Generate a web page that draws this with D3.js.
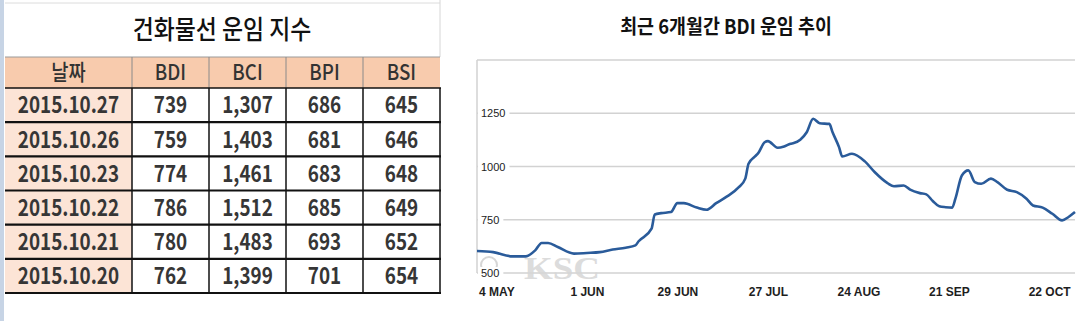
<!DOCTYPE html>
<html>
<head>
<meta charset="utf-8">
<script src="https://cdn.jsdelivr.net/npm/d3@7"></script>
<style>
body{margin:0;background:#fff;}
</style>
</head>
<body>
<div id="chart"></div>
<script>
// 건화물선 운임 지수 표
var table_title = "건화물선 운임 지수"
var col_names = ["날짜","BDI","BCI","BPI","BSI"]
var dates = ["2015.10.27","2015.10.26","2015.10.23","2015.10.22","2015.10.21","2015.10.20"]
var bdi = [739,759,774,786,780,762]
var bci = [1307,1403,1461,1512,1483,1399]
var bpi = [686,681,683,685,693,701]
var bsi = [645,646,648,649,652,654]

// 최근 6개월 BDI 추이
var chart_title = "최근 6개월간 BDI 운임 추이"
var line_dates = ["2015-04-28","2015-05-03","2015-05-09","2015-05-13","2015-05-16","2015-05-18","2015-05-20","2015-05-23","2015-05-28","2015-06-01",
    "2015-06-05","2015-06-09","2015-06-13","2015-06-16","2015-06-17","2015-06-21","2015-06-22","2015-06-24","2015-06-27","2015-06-29",
    "2015-07-01","2015-07-05","2015-07-08","2015-07-11","2015-07-14","2015-07-18","2015-07-20","2015-07-21","2015-07-23","2015-07-24",
    "2015-07-26","2015-07-27","2015-07-30","2015-08-01","2015-08-03","2015-08-04","2015-08-06","2015-08-08","2015-08-10","2015-08-12",
    "2015-08-15","2015-08-16","2015-08-18","2015-08-19","2015-08-22","2015-08-26","2015-08-29","2015-09-02","2015-09-04","2015-09-07",
    "2015-09-09","2015-09-12","2015-09-14","2015-09-16","2015-09-18","2015-09-20","2015-09-22","2015-09-23","2015-09-25","2015-09-27",
    "2015-09-29","2015-10-01","2015-10-04","2015-10-06","2015-10-09","2015-10-12","2015-10-15","2015-10-17","2015-10-20","2015-10-23",
    "2015-10-26","2015-10-28","2015-10-30"]
var line_values = [603,598,578,578,606,641,641,622,591,594,
    598,610,619,630,649,708,775,781,786,828,
    828,807,797,828,856,903,943,1013,1047,1063,
    1114,1119,1088,1094,1107,1110,1126,1161,1224,1203,
    1200,1161,1091,1047,1060,1024,974,922,907,911,
    891,875,869,838,813,809,807,849,958,982,
    927,919,943,927,891,880,849,817,807,778,
    747,763,786]
var y_ticks = [500,750,1000,1250]
var x_ticks = ["2015-05-04","2015-06-01","2015-06-29","2015-07-27","2015-08-24","2015-09-21","2015-10-22"]

var svg = d3.select("#chart")
  .append("svg")
  .attr("width", 1081)
  .attr("height", 321)

svg.append("rect")
  .attr("width", 1081)
  .attr("height", 321)
  .attr("fill", "#fff")

// 엑셀 왼쪽 테두리
svg.append("rect")
  .attr("x", 0).attr("y", 0)
  .attr("width", 4).attr("height", 321)
  .attr("fill", "#c7d4e5")

// 글자 폭 줄이기
function squeeze(sel, k){
    sel.each(function(){
        var w = this.getComputedTextLength()
        d3.select(this).attr("textLength", w*k).attr("lengthAdjust", "spacingAndGlyphs")
    })
}

// ---------- 표 ----------
var tbl = svg.append("g")
var col_x = d3.scaleBand().domain(col_names.slice(1)).range([132, 440])
function colLeft(i){ return i==0 ? 5 : col_x(col_names[i]) }
function colW(i){ return i==0 ? 127 : col_x.bandwidth() }
var row_y = d3.scaleBand().domain(dates).range([88, 293])
var head_top = 57
var head_bot = 88

// 위쪽 흐린 격자
tbl.append("line")
  .attr("x1", 5).attr("x2", 440).attr("y1", 3).attr("y2", 3)
  .attr("stroke", "#dcdcdc")
tbl.append("line")
  .attr("x1", 440).attr("x2", 440).attr("y1", 0).attr("y2", head_top)
  .attr("stroke", "#d6d6d6")

tbl.append("text")
  .attr("x", 222).attr("y", 30)
  .attr("dy", "0.35em")
  .attr("text-anchor", "middle")
  .attr("font-family", "Noto Sans CJK KR")
  .attr("font-size", 26)
  .attr("font-weight", 500)
  .attr("fill", "#111")
  .text(table_title)
  .call(squeeze, 0.88)

// 헤더
tbl.append("rect")
  .attr("x", 5).attr("y", head_top)
  .attr("width", 435).attr("height", head_bot-head_top)
  .attr("fill", "#f8cbad")
tbl.selectAll(".head")
  .data(col_names)
  .enter()
  .append("text")
  .attr("x", function(d,i){ return colLeft(i) + colW(i)/2 })
  .attr("y", (head_top+head_bot)/2)
  .attr("dy", "0.36em")
  .attr("text-anchor", "middle")
  .attr("font-family", "Noto Sans CJK KR")
  .attr("font-size", 22)
  .attr("font-weight", 500)
  .attr("fill", "#333")
  .text(function(d){ return d })
  .call(squeeze, 0.85)

// 날짜 칸 색
tbl.append("rect")
  .attr("x", 5).attr("y", head_bot)
  .attr("width", colW(0)).attr("height", 293-head_bot)
  .attr("fill", "#fce4d6")

var rows = dates.map(function(d,i){
    return [d, bdi[i], bci[i], bpi[i], bsi[i]]
})
var fmt = d3.format(",")
rows.forEach(function(r){
    tbl.selectAll(null)
      .data(r)
      .enter()
      .append("text")
      .attr("x", function(d,i){ return colLeft(i) + colW(i)/2 })
      .attr("y", row_y(r[0]) + row_y.bandwidth()/2)
      .attr("dy", "0.36em")
      .attr("text-anchor", "middle")
      .attr("font-family", "Noto Sans CJK KR")
      .attr("font-size", 23)
      .attr("font-weight", 700)
      .attr("fill", "#363636")
      .text(function(d,i){ return i==0 ? d : fmt(d) })
      .call(squeeze, 0.82)
})

// 테두리
tbl.append("line")
  .attr("x1", 5).attr("x2", 440).attr("y1", head_top).attr("y2", head_top)
  .attr("stroke", "#9a9a9a")
tbl.selectAll(".hv")
  .data(col_names.slice(1))
  .enter()
  .append("line")
  .attr("x1", function(d){ return col_x(d) }).attr("x2", function(d){ return col_x(d) })
  .attr("y1", head_top).attr("y2", head_bot)
  .attr("stroke", "#8a8a8a")
tbl.selectAll(".dv")
  .data(col_names.slice(1).concat(["end"]))
  .enter()
  .append("line")
  .attr("x1", function(d){ return d=="end" ? 440 : col_x(d) })
  .attr("x2", function(d){ return d=="end" ? 440 : col_x(d) })
  .attr("y1", head_bot).attr("y2", 293)
  .attr("stroke", "#111")
  .attr("stroke-width", 1.5)
tbl.selectAll(".hz")
  .data([head_bot].concat(dates.map(function(d){ return row_y(d) + row_y.bandwidth() })))
  .enter()
  .append("line")
  .attr("x1", 5).attr("x2", 441)
  .attr("y1", function(d){ return d }).attr("y2", function(d){ return d })
  .attr("stroke", "#111")
  .attr("stroke-width", function(d,i){ return i==0 ? 1.5 : 2.2 })

// ---------- 선 그래프 ----------
var parse = d3.timeParse("%Y-%m-%d")
var x = d3.scaleTime()
    .domain([parse("2015-04-28"), parse("2015-10-30")])
    .range([477, 1075])
var y = d3.scaleLinear()
    .domain([500, 1500])
    .range([273, 60])

var chart = svg.append("g")

chart.append("text")
  .attr("x", 726).attr("y", 27)
  .attr("dy", "0.35em")
  .attr("text-anchor", "middle")
  .attr("font-family", "Noto Sans CJK KR")
  .attr("font-size", 20)
  .attr("font-weight", 700)
  .attr("fill", "#111")
  .text(chart_title)
  .call(squeeze, 0.92)

// 격자
chart.selectAll(".grid")
  .data(y_ticks.concat([1500]))
  .enter()
  .append("line")
  .attr("x1", x.range()[0]).attr("x2", x.range()[1])
  .attr("y1", function(d){ return y(d) }).attr("y2", function(d){ return y(d) })
  .attr("stroke", "#d2d2d2")
  .attr("stroke-width", 1.5)
chart.append("line")
  .attr("x1", 477).attr("x2", 477)
  .attr("y1", y(1500)).attr("y2", y(500))
  .attr("stroke", "#d2d2d2")
  .attr("stroke-width", 1.5)

// KSC 워터마크
var wm = chart.append("g").attr("opacity", 0.85)
wm.append("circle")
  .attr("cx", 489).attr("cy", 265).attr("r", 8)
  .attr("fill", "none").attr("stroke", "#cfcfcf").attr("stroke-width", 2)
wm.append("text")
  .attr("x", 524).attr("y", 279)
  .attr("font-family", "Liberation Serif")
  .attr("font-size", 31)
  .attr("font-weight", 700)
  .attr("fill", "#d6d6d6")
  .text("KSC")
  .attr("textLength", 76)
  .attr("lengthAdjust", "spacingAndGlyphs")

// y 라벨
var ylab = chart.selectAll(".ylab")
  .data(y_ticks)
  .enter()
  .append("g")
ylab.append("text")
  .attr("x", 481)
  .attr("y", function(d){ return y(d) + 4 })
  .attr("font-family", "Liberation Sans")
  .attr("font-size", 11)
  .attr("fill", "#222")
  .text(function(d){ return d })
ylab.each(function(){
    var t = d3.select(this).select("text")
    var w = t.node().getComputedTextLength()
    d3.select(this).insert("rect", "text")
      .attr("x", 478).attr("y", +t.attr("y") - 10)
      .attr("width", w + 7).attr("height", 13)
      .attr("fill", "#fff")
})

// BDI 선
var pts = line_dates.map(function(d,i){ return {date: parse(d), value: line_values[i]} })
chart.append("path")
  .datum(pts)
  .attr("fill", "none")
  .attr("stroke", "#2a5b9a")
  .attr("stroke-width", 2.6)
  .attr("stroke-linejoin", "round")
  .attr("d", d3.line()
      .x(function(d){ return x(d.date) })
      .y(function(d){ return y(d.value) })
      .curve(d3.curveMonotoneX))

// x 축
var xfmt = d3.timeFormat("%-d %b")
var xaxis = chart.append("g")
  .attr("transform", "translate(0," + y(500) + ")")
  .call(d3.axisBottom(x)
      .tickValues(x_ticks.map(parse))
      .tickSize(0)
      .tickPadding(14)
      .tickFormat(function(d){ return xfmt(d).toUpperCase() }))
xaxis.select(".domain").remove()
xaxis.selectAll("text")
  .attr("font-family", "Liberation Sans")
  .attr("font-size", 12)
  .attr("font-weight", 700)
  .attr("fill", "#1e1e1e")
</script>
</body>
</html>
